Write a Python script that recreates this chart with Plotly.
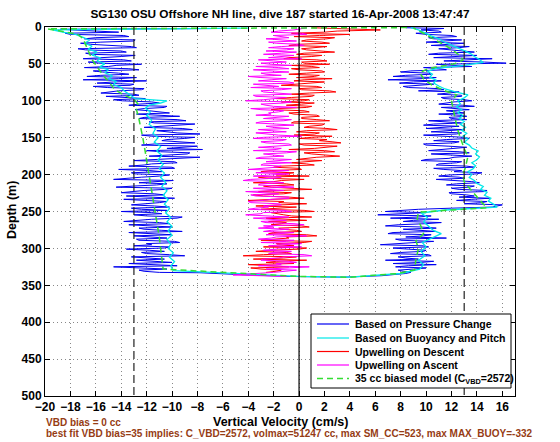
import plotly.graph_objects as go

# ---------------- data ----------------
GRID_A = list(range(4, 332, 3))                 # depth samples (m), 110 values
GRID_B = [d + 1.5 for d in GRID_A]              # interleaved depth samples (m)

# Based on Pressure Change - descent (cm/s) on GRID_A and GRID_B
BLUE_DESC_A = [
    -17.8, -14.2, -18.0, -13.4, -16.9, -13.0, -17.2, -14.6, -12.8, -16.8,
    -13.6, -16.4, -14.0, -17.0, -13.2, -15.8, -14.4, -16.9, -12.6, -15.5,
    -13.4, -16.7, -14.2, -12.0, -15.9, -13.3, -15.1, -12.4, -14.8, -13.0,
    -15.2, -12.1, -13.9, -11.0, -13.4, -10.6, -12.9, -11.2, -12.8, -9.4,
    -12.6, -8.9, -11.4, -9.8, -12.2, -8.4, -10.6, -7.8, -11.6, -9.0,
    -10.8, -8.2, -12.4, -9.2, -7.6, -10.9, -8.8, -11.8, -9.5, -13.0,
    -9.6, -12.2, -10.0, -14.2, -10.8, -12.9, -11.0, -13.8, -9.9, -12.6,
    -11.2, -14.4, -10.5, -12.9, -11.4, -13.6, -9.8, -12.3, -11.0, -13.2,
    -10.2, -12.4, -14.0, -10.8, -12.0, -9.6, -12.8, -11.0, -13.4, -10.0,
    -12.2, -9.2, -11.8, -13.0, -10.4, -12.6, -9.4, -11.6, -10.2, -13.6,
    -10.6, -12.0, -9.0, -11.4, -12.8, -10.0, -11.2, -14.6, -10.4, -12.2,
]
BLUE_DESC_B = [
    -15.2, -18.4, -13.8, -16.0, -12.9, -15.6, -16.4, -13.2, -17.4, -14.0,
    -16.8, -12.9, -15.2, -13.8, -16.6, -12.4, -15.0, -13.4, -16.2, -14.2,
    -15.6, -12.8, -17.0, -14.6, -13.0, -16.2, -12.2, -14.2, -15.6, -12.6,
    -13.8, -14.6, -11.6, -12.6, -10.4, -12.2, -11.8, -10.2, -11.4, -12.2,
    -9.6, -11.8, -8.2, -10.8, -9.2, -11.2, -9.6, -12.4, -8.2, -10.4,
    -9.0, -11.4, -8.0, -10.4, -12.0, -8.6, -10.2, -7.8, -12.2, -9.8,
    -11.6, -13.4, -9.8, -11.8, -13.2, -10.2, -12.4, -14.6, -11.2, -10.4,
    -13.0, -10.0, -12.2, -14.0, -10.6, -12.0, -13.8, -10.4, -12.6, -11.4,
    -13.2, -10.4, -11.6, -13.0, -9.2, -11.6, -13.8, -10.2, -11.8, -12.6,
    -10.8, -13.4, -10.0, -11.2, -12.8, -9.8, -12.0, -13.0, -10.6, -11.8,
    -12.4, -10.2, -13.2, -10.6, -11.6, -13.4, -9.6, -11.8, -12.6, -11.0,
]
# Based on Pressure Change - ascent (cm/s)
BLUE_ASC_A = [
    9.6, 11.2, 10.0, 12.4, 10.6, 11.8, 13.0, 10.4, 12.6, 11.4,
    13.8, 10.2, 12.0, 15.2, 11.4, 16.3, 12.2, 9.8, 11.6, 8.0,
    10.4, 7.4, 9.6, 11.2, 7.9, 10.0, 8.6, 11.4, 12.6, 10.9,
    12.8, 11.4, 13.6, 11.8, 12.9, 11.2, 13.4, 12.0, 11.0, 13.2,
    12.0, 10.2, 12.8, 9.8, 11.6, 13.0, 10.4, 12.4, 11.0, 13.4,
    10.6, 12.2, 10.0, 13.2, 11.2, 12.6, 10.4, 13.6, 11.8, 9.6,
    12.4, 10.8, 13.8, 11.4, 12.2, 14.0, 11.0, 13.0, 12.2, 14.2,
    11.6, 13.4, 12.6, 14.6, 12.0, 13.8, 15.0, 12.4, 14.4, 16.0,
    15.2, 9.4, 6.8, 8.6, 10.4, 7.2, 9.0, 11.2, 7.8, 9.6,
    8.2, 10.8, 7.0, 9.8, 11.6, 8.0, 9.2, 6.4, 10.2, 8.6,
    9.8, 7.2, 10.4, 8.4, 6.8, 9.6, 10.8, 7.6, 9.0, 8.2,
]
BLUE_ASC_B = [
    11.0, 9.2, 12.0, 10.2, 12.8, 10.0, 11.6, 13.4, 11.0, 12.8,
    11.0, 14.0, 10.6, 13.0, 14.6, 10.8, 13.6, 11.0, 8.8, 10.2,
    8.4, 10.8, 7.0, 9.0, 10.6, 8.2, 11.0, 9.4, 11.6, 12.8,
    11.2, 13.0, 12.2, 11.0, 13.8, 12.4, 11.6, 13.0, 12.6, 11.8,
    13.2, 11.2, 10.6, 12.6, 10.0, 11.4, 12.8, 9.8, 13.0, 11.6,
    12.6, 9.8, 11.8, 12.0, 10.2, 13.4, 11.6, 12.2, 10.0, 12.8,
    11.0, 13.2, 10.6, 12.8, 14.4, 11.8, 12.6, 10.8, 13.6, 12.4,
    13.8, 12.0, 14.8, 11.8, 13.2, 12.6, 13.6, 14.8, 13.0, 15.6,
    12.0, 8.2, 10.0, 6.2, 9.4, 11.0, 8.2, 10.0, 6.8, 10.8,
    9.6, 7.4, 10.4, 8.4, 7.6, 10.6, 7.8, 9.8, 7.4, 10.0,
    8.0, 10.2, 7.8, 9.4, 10.6, 7.4, 8.6, 10.0, 7.8, 8.8,
]
BLUE_TOP_D = [2, 3]
BLUE_TOP_V = [-6.0, -18.8]
BLUE_BOTTOM_D = [333, 336, 338, 339, 337, 334]
BLUE_BOTTOM_V = [-7.8, -4.0, -0.7, 3.5, 6.5, 8.4]
BLUE_SURF_D = [2, 1]
BLUE_SURF_V = [11.4, 8.4]

# Upwelling on Descent (cm/s)
RED_DESC_A = [
    6.4, 2.0, 4.0, -0.4, 2.2, 0.2, 2.4, -0.8, 1.4, 0.6,
    2.8, -0.2, 1.0, -1.2, 2.2, 0.4, -0.6, 1.6, 0.0, 2.0,
    -0.8, 1.2, 2.6, -0.4, 0.8, -1.4, 1.8, 0.2, 2.9, -0.6,
    1.0, -1.8, 0.4, 1.2, -1.0, 0.6, -2.2, 0.8, -0.4, 1.6,
    0.2, 2.4, -0.6, 1.8, 0.4, 3.0, -0.2, 1.2, 2.6, 0.0,
    1.6, 3.3, 0.4, 2.2, -0.8, 2.8, 1.0, 3.2, 0.6, 1.8,
    -0.6, 1.2, -2.0, 0.2, -3.0, -1.0, 0.8, -2.6, -1.4, -3.6,
    -0.4, -2.2, 1.0, -3.2, -1.2, -2.8, 0.4, -4.0, -1.6, -2.4,
    -0.2, -3.0, 1.2, -1.8, -0.6, -2.6, 0.6, -1.0, -2.2, 0.8,
    -1.4, 0.2, -2.4, 1.4, -0.8, -3.0, 0.4, -1.6, -2.8, 0.0,
    -3.4, -0.6, -4.4, -1.2, 0.6, -2.6, -4.0, -0.8, -3.0, -1.8,
]
RED_DESC_B = [
    3.0, -0.6, 1.6, 2.8, 0.6, 1.8, -0.2, 2.2, 0.2, 1.6,
    0.4, 1.8, -0.8, 1.4, 0.2, 2.4, 1.0, -0.6, 1.8, 0.6,
    1.6, -0.2, 0.4, 2.0, -1.0, 1.4, 0.0, 2.4, 0.8, 1.2,
    -0.6, 0.8, -1.4, 0.2, 1.0, -1.6, 0.4, -0.8, 1.4, 0.2,
    1.4, -0.4, 2.0, 0.8, 2.2, 0.6, 1.6, -0.4, 1.0, 2.2,
    2.6, 0.0, 3.0, 1.2, 2.0, 0.4, 2.6, 1.4, -0.2, 0.8,
    0.6, -1.4, 0.0, -2.2, -0.4, -1.8, -3.2, 0.4, -2.0, -1.0,
    -2.8, 0.2, -1.8, -0.6, -3.6, -0.8, -2.0, -1.2, 0.6, -3.4,
    -1.6, 0.4, -2.2, -1.2, 1.0, -0.8, -2.4, -1.4, 0.2, -1.6,
    -0.2, -2.0, 0.6, -1.0, -2.0, 1.0, -1.8, -0.4, 0.6, -2.2,
    -1.0, -2.8, -0.2, -3.6, -1.8, -0.4, -2.2, -3.8, -1.4, -2.6,
]
RED_TOP_D = [1, 2.5]
RED_TOP_V = [1.0, 4.2]

# Upwelling on Ascent (cm/s)
MAG_ASC_A = [
    -0.4, -2.2, 0.6, -1.4, -2.6, -0.2, -1.8, 0.4, -2.4, -1.0,
    -0.2, -2.8, -1.2, 0.2, -2.0, -3.0, -0.6, -1.6, -3.6, -0.8,
    -2.6, -4.0, -1.0, -3.2, -0.4, -2.2, -3.8, -1.4, -2.8, -0.6,
    -3.4, -1.8, -4.2, -1.2, -2.6, -0.2, -3.0, -1.6, -2.2, -0.8,
    -2.8, -1.2, -3.4, -0.4, -2.0, -3.2, -1.0, -2.4, 0.2, -3.6,
    -1.4, -2.6, -0.6, -3.2, -1.8, -0.2, -2.8, -1.2, -3.4, -2.0,
    -0.6, -3.0, -1.8, -4.0, -2.4, -0.8, -3.6, -2.0, -4.4, -1.2,
    -3.2, -0.4, -2.6, -4.2, -1.6, -3.4, -0.8, -2.8, -3.8, -1.4,
    -2.4, -4.0, -0.6, -3.0, -1.8, -3.6, -1.0, -2.6, 0.4, -2.0,
    -0.8, -2.8, -1.4, 0.6, -2.2, -0.4, -3.0, -1.2, 0.2, -1.8,
    -0.6, -2.4, 1.0, -1.6, -3.0, -0.2, -1.4, 0.8, -2.6, -1.0,
]
MAG_ASC_B = [
    -1.6, 0.2, -2.0, -0.8, -1.2, -2.4, 0.0, -1.4, -0.4, -2.6,
    -1.4, -0.4, -2.4, -3.2, -1.0, -2.2, -3.4, -0.8, -2.0, -3.0,
    -1.4, -3.0, -2.2, -0.8, -3.6, -1.6, -0.6, -3.0, -1.8, -3.6,
    -1.0, -2.8, -0.6, -3.0, -2.0, -3.8, -1.2, -2.4, -3.4, -1.6,
    -0.6, -3.0, -1.8, -2.6, -0.8, -2.2, -3.4, -1.6, -2.8, -1.0,
    -3.0, -0.8, -2.2, -1.4, -3.6, -1.0, -2.0, -3.0, -0.6, -2.6,
    -2.8, -1.4, -3.2, -0.8, -3.4, -2.6, -1.4, -3.8, -2.2, -3.0,
    -1.8, -3.6, -1.2, -2.4, -3.8, -0.8, -2.2, -4.0, -1.6, -2.8,
    -3.4, -1.2, -2.8, -4.2, -0.8, -2.2, -3.0, -0.4, -2.8, -3.2,
    -2.2, -0.4, -2.6, -1.8, -3.2, -1.0, 0.2, -2.4, -1.6, -2.8,
    -2.0, 0.4, -1.2, -2.8, -0.8, -1.8, -3.2, -1.0, -0.2, -2.0,
]
MAG_TOP_D = [1]
MAG_TOP_V = [0.6]
MAG_BOTTOM_D = [336, 338]
MAG_BOTTOM_V = [-5.2, -1.0]

# Based on Buoyancy and Pitch (one continuous profile: down, turn, up)
CYAN_D = [1.5, 4, 7, 10, 14, 18, 22, 26, 30, 34, 38, 42, 46, 50, 54, 58, 62, 66,
          70, 74, 78, 82, 86, 90, 94, 97, 100, 103, 106, 110, 115, 120, 126, 132,
          138, 144, 150, 156, 162, 168, 174, 180, 186, 192, 198, 204, 210, 216,
          222, 228, 234, 240, 246, 252, 258, 264, 270, 276, 282, 288, 294, 300,
          306, 312, 318, 324, 330,
          332, 338, 339, 334,
          328, 322, 316, 310, 304, 298, 292, 286, 280, 276, 270, 264, 258, 252,
          248, 244, 240, 236, 232, 228, 224, 220, 216, 212, 208, 204, 200, 196,
          192, 188, 184, 180, 176, 172, 168, 164, 160, 156, 152, 148, 144, 140,
          136, 132, 128, 124, 120, 116, 112, 108, 104, 100, 96, 92, 88, 84, 80,
          76, 72, 68, 64, 60, 56, 52, 48, 44, 40, 36, 32, 28, 24, 20, 16, 12, 8,
          4, 1]
CYAN_V = [-4.0, -19.4, -18.6, -17.6, -17.0, -16.5, -16.9, -16.3, -16.6, -15.9,
          -16.3, -15.6, -15.9, -15.3, -15.7, -15.0, -15.3, -14.7, -15.0, -14.4,
          -14.6, -14.0, -13.8, -13.5, -13.2, -12.9, -10.4, -10.9, -11.8, -12.1,
          -11.7, -12.0, -11.6, -11.8, -11.3, -11.5, -11.1, -11.4, -10.9, -11.2,
          -10.8, -11.1, -10.7, -11.0, -10.6, -10.9, -10.5, -10.8, -10.4, -10.7,
          -10.3, -10.6, -10.2, -10.5, -10.1, -10.4, -10.0, -10.3, -10.0, -10.4,
          -10.1, -10.3, -9.9, -10.2, -9.8, -10.1, -9.9,
          -7.6, 0.0, 4.0, 8.0,
          9.5, 9.8, 9.4, 9.9, 9.6, 10.0, 9.7, 10.4, 11.2, 10.6, 10.2, 9.8, 10.1,
          9.6, 11.5, 15.6, 15.3, 14.9, 15.1, 14.6, 14.8, 14.3, 14.5, 14.0, 13.8,
          13.4, 13.6, 13.3, 13.7, 13.9, 13.6, 14.0, 14.2, 13.9, 14.1, 13.6, 13.4,
          13.0, 13.3, 12.9, 13.2, 12.8, 13.1, 12.7, 13.0, 12.6, 12.9, 12.5, 12.8,
          12.4, 12.7, 12.5, 13.0, 13.3, 12.3, 11.5, 11.0, 10.6, 10.8, 10.3, 10.5,
          10.1, 10.8, 13.0, 14.5, 14.2, 13.8, 13.5, 13.0, 12.4, 11.9, 11.4, 11.0,
          10.4, 9.9, 9.4, 8.8]

# 35 cc biased model (smooth)
GREEN_D = [0.8, 2.5, 6, 10, 16, 24, 34, 44, 54, 66, 76, 85, 92, 98, 104, 112,
           125, 140, 150, 170, 190, 205, 230, 250, 265, 285, 300, 315, 328,
           331, 338, 339, 334, 329, 315, 300, 290, 280, 270, 260, 251, 248, 245,
           238, 230, 220, 210, 200, 190, 175, 165, 150, 140, 125, 110, 100, 92,
           86, 78, 70, 62, 56, 50, 45, 38, 30, 22, 15, 9, 4, 1]
GREEN_V = [8.5, -19.8, -18.6, -17.4, -17.0, -16.8, -16.5, -16.3, -15.9, -15.4,
           -14.9, -14.5, -13.8, -13.0, -12.7, -12.8, -12.6, -12.4, -12.3, -12.1,
           -11.9, -11.8, -11.5, -11.3, -11.2, -11.0, -10.9, -10.8, -10.7,
           -7.5, 0.0, 4.0, 7.8, 9.1, 9.2, 9.4, 9.2, 9.8, 9.6, 9.3, 9.4, 12.0, 14.8,
           14.4, 14.0, 13.5, 13.0, 12.9, 13.1, 13.3, 13.0, 12.7, 12.5, 12.3, 12.1,
           12.0, 12.4, 11.4, 10.4, 9.8, 9.5, 10.2, 12.2, 12.9, 12.6, 12.0, 11.2,
           10.5, 9.9, 9.4, 9.0]

LIMIT_V = [-13, 13]          # dashed reference velocities
DEPTH_SPAN = [0, 500]

SERIES_NAMES = ["Based on Pressure Change", "Based on Buoyancy and Pitch",
                "Upwelling on Descent", "Upwelling on Ascent",
                "35 cc biased model (C<sub>VBD</sub>=2572)"]
SERIES_COLORS = ["#0000f0", "#00e8e8", "#ff0000", "#ff00ff", "#33dd33"]
SERIES_DASH = ["solid", "solid", "solid", "solid", "6px,4px"]

TITLE = "SG130 OSU Offshore NH line, dive 187 started 16-Apr-2008 13:47:47"
NOTE1 = "VBD bias = 0 cc"
NOTE2 = ("best fit VBD bias=35 implies: C_VBD=2572, volmax=51247 cc, "
         "max SM_CC=523, max MAX_BUOY=-332")


def interleave(a, b):
    out = []
    for p, q in zip(a, b):
        out += [p, q]
    return out


# ---------------- figure ----------------
FONT = "Liberation Sans, Arial, Helvetica, sans-serif"
fig = go.Figure()

grid_ab = interleave(GRID_A, GRID_B)
blue_y = BLUE_TOP_D + grid_ab + BLUE_BOTTOM_D + grid_ab[::-1] + BLUE_SURF_D
blue_x = (BLUE_TOP_V + interleave(BLUE_DESC_A, BLUE_DESC_B) + BLUE_BOTTOM_V
          + interleave(BLUE_ASC_A, BLUE_ASC_B)[::-1] + BLUE_SURF_V)
fig.add_trace(go.Scatter(x=blue_x, y=blue_y, mode="lines",
                         line=dict(color=SERIES_COLORS[0], width=1),
                         name=SERIES_NAMES[0], showlegend=False))
fig.add_trace(go.Scatter(x=CYAN_V, y=CYAN_D, mode="lines",
                         line=dict(color=SERIES_COLORS[1], width=1.3),
                         name=SERIES_NAMES[1], showlegend=False))
fig.add_trace(go.Scatter(x=RED_TOP_V + interleave(RED_DESC_A, RED_DESC_B),
                         y=RED_TOP_D + grid_ab, mode="lines",
                         line=dict(color=SERIES_COLORS[2], width=1),
                         name=SERIES_NAMES[2], showlegend=False))
fig.add_trace(go.Scatter(x=MAG_TOP_V + interleave(MAG_ASC_A, MAG_ASC_B) + MAG_BOTTOM_V,
                         y=MAG_TOP_D + grid_ab + MAG_BOTTOM_D, mode="lines",
                         line=dict(color=SERIES_COLORS[3], width=1),
                         name=SERIES_NAMES[3], showlegend=False))
fig.add_trace(go.Scatter(x=GREEN_V, y=GREEN_D, mode="lines",
                         line=dict(color=SERIES_COLORS[4], width=1.5,
                                   dash=SERIES_DASH[4]),
                         name=SERIES_NAMES[4], showlegend=False))
for v in LIMIT_V:
    fig.add_trace(go.Scatter(x=[v, v], y=DEPTH_SPAN, mode="lines",
                             line=dict(color="#222222", width=1.2, dash="8px,4px"),
                             showlegend=False, hoverinfo="skip"))
fig.add_trace(go.Scatter(x=[0, 0], y=DEPTH_SPAN, mode="lines",
                         line=dict(color="black", width=1.2),
                         showlegend=False, hoverinfo="skip"))

axis_common = dict(ticks="inside", ticklen=5, tickcolor="black", showline=True,
                   linecolor="black", linewidth=1, mirror="allticks",
                   showgrid=True, gridcolor="#888888", griddash="1px,3px",
                   gridwidth=1, zeroline=False, automargin=False,
                   tickfont=dict(family=FONT, size=12, color="black", weight="bold"))
fig.update_xaxes(range=[-20, 17], tickvals=list(range(-20, 17, 2)), **axis_common)
fig.update_yaxes(range=[500, 0], tickvals=list(range(0, 501, 50)), **axis_common)

# ---- hand-built legend box (MATLAB-style compact legend) ----
PLOT_L, PLOT_R, PLOT_T, PLOT_B = 45, 515, 27, 396


def px(xp):
    return (xp - PLOT_L) / (PLOT_R - PLOT_L)


def py(yp):
    return (PLOT_B - yp) / (PLOT_B - PLOT_T)


shapes = [dict(type="rect", xref="paper", yref="paper", x0=px(311), x1=px(511),
               y0=py(388), y1=py(314), line=dict(color="black", width=1),
               fillcolor="white", layer="above")]
legend_rows = [324, 338, 351.5, 365, 378.5]
annotations = []
for name, color, dash, yrow in zip(SERIES_NAMES, SERIES_COLORS, SERIES_DASH, legend_rows):
    shapes.append(dict(type="line", xref="paper", yref="paper", x0=px(317), x1=px(349),
                       y0=py(yrow), y1=py(yrow), layer="above",
                       line=dict(color=color, width=1.5 if dash != "solid" else 1.2,
                                 dash=dash)))
    annotations.append(dict(text=name, xref="paper", yref="paper", x=px(353), y=py(yrow),
                            xanchor="left", yanchor="middle", showarrow=False,
                            font=dict(family=FONT, size=10.5, color="black",
                                      weight="bold")))

annotations += [
    dict(text="Vertical Velocity (cm/s)", xref="paper", yref="paper",
         x=px(281), y=py(422), xanchor="center", yanchor="middle", showarrow=False,
         font=dict(family=FONT, size=12.5, color="black", weight="bold")),
    dict(text="Depth (m)", xref="paper", yref="paper", textangle=-90,
         x=px(12), y=py(210), xanchor="center", yanchor="middle", showarrow=False,
         font=dict(family=FONT, size=12.5, color="black", weight="bold")),
    dict(text=NOTE1, xref="paper", yref="paper", x=px(44), y=py(422),
         xanchor="left", yanchor="middle", showarrow=False,
         font=dict(family=FONT, size=10, color="#963c14", weight="bold")),
    dict(text=NOTE2, xref="paper", yref="paper", x=px(44), y=py(434),
         xanchor="left", yanchor="middle", showarrow=False,
         font=dict(family=FONT, size=10, color="#963c14", weight="bold")),
]

fig.update_layout(
    width=560, height=442,
    margin=dict(l=PLOT_L, r=560 - PLOT_R, t=PLOT_T, b=442 - PLOT_B),
    paper_bgcolor="white", plot_bgcolor="white",
    font=dict(family=FONT, size=12, color="black"),
    title=dict(text=TITLE, x=0.5, xref="paper", y=1 - 14 / 442, yref="container",
               yanchor="middle", xanchor="center",
               font=dict(family=FONT, size=11.8, color="black", weight="bold")),
    showlegend=False,
    shapes=shapes,
    annotations=annotations,
)

fig.write_html("out.html", config={"displayModeBar": False},
               post_script="document.body.style.margin='0px';")
